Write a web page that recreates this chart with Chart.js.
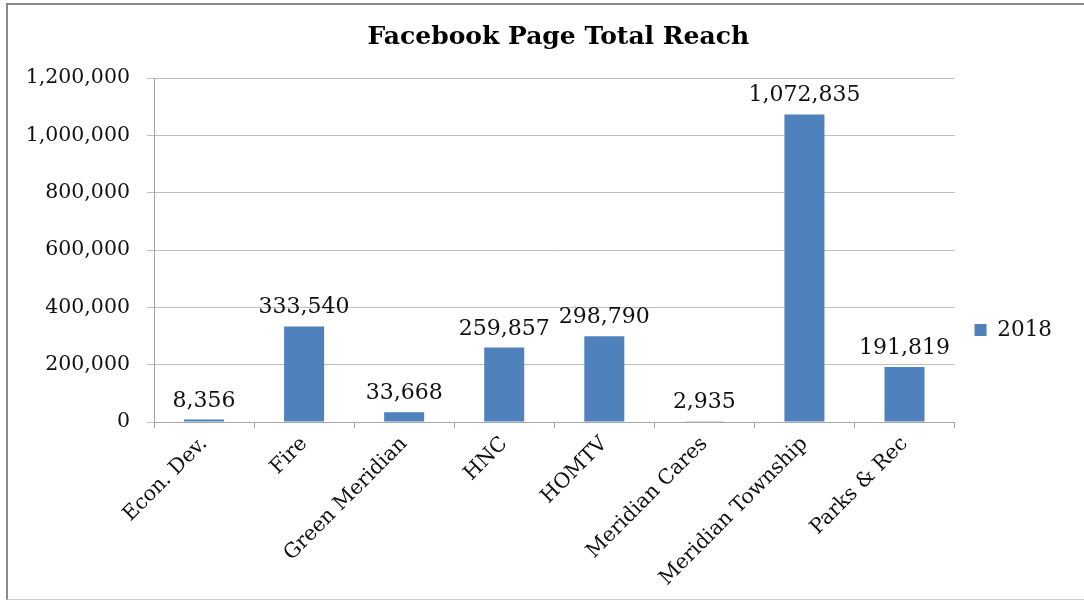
<!DOCTYPE html>
<html>
<head>
<meta charset="utf-8">
<script src="https://cdn.jsdelivr.net/npm/chart.js@4.4.1/dist/chart.umd.min.js"></script>
<style>
  html, body { margin: 0; padding: 0; background: #fff; }
  #wrap { position: relative; width: 1084px; height: 600px; }
  #c { position: absolute; left: 0; top: 0; }
  #frame { position: absolute; left: 6px; top: 3px; width: 1090px; height: 594px;
           border-left: 2px solid #8a8a8a; border-top: 2px solid #8a8a8a; border-bottom: 1px solid #d0d0d0;
           pointer-events: none; }
</style>
</head>
<body>
<div id="wrap">
  <canvas id="c" width="1084" height="600"></canvas>
  <div id="frame"></div>
</div>
<script>
const chartTitle = "Facebook Page Total Reach";
const categories = ["Econ. Dev.", "Fire", "Green Meridian", "HNC", "HOMTV", "Meridian Cares", "Meridian Township", "Parks & Rec"];
const seriesName = "2018";
const values = [8356, 333540, 33668, 259857, 298790, 2935, 1072835, 191819];
const yTicks = [0, 200000, 400000, 600000, 800000, 1000000, 1200000];

const SERIF = "'DejaVu Serif', 'Liberation Serif', serif";
const fmt = v => Number(v).toLocaleString('en-US');

const valueLabels = {
  id: 'valueLabels',
  afterDatasetsDraw(chart) {
    const ctx = chart.ctx;
    const meta = chart.getDatasetMeta(0);
    ctx.save();
    ctx.font = "22px " + SERIF;
    ctx.fillStyle = "#111";
    ctx.textAlign = "center";
    ctx.textBaseline = "alphabetic";
    meta.data.forEach((bar, i) => {
      ctx.fillText(fmt(values[i]), bar.x, bar.y - 13);
    });
    ctx.restore();
  }
};

// centre the title over the plot area (as in the original) rather than the whole canvas
const titleOverPlot = {
  id: 'titleOverPlot',
  afterLayout(chart) {
    const t = chart.titleBlock;
    if (t) { t.left = chart.chartArea.left; t.right = chart.chartArea.right + 8; }
  }
};

new Chart(document.getElementById('c'), {
  type: 'bar',
  data: {
    labels: categories,
    datasets: [{
      label: seriesName,
      data: values,
      backgroundColor: '#4f81bd',
      borderWidth: 0,
      barPercentage: 0.4,
      categoryPercentage: 1.0
    }]
  },
  options: {
    responsive: false,
    animation: false,
    layout: { padding: { left: 0, right: 22, top: 0, bottom: 0 } },
    plugins: {
      title: {
        display: true,
        text: chartTitle,
        color: '#000',
        font: { family: SERIF, size: 25, weight: 'bold' },
        padding: { top: 22, bottom: 26 }
      },
      legend: {
        position: 'right',
        title: { display: true, text: ' ', font: { size: 10 }, padding: { top: 24, bottom: 24 } },
        labels: {
          boxWidth: 12, boxHeight: 12,
          color: '#111',
          font: { family: SERIF, size: 21.5 },
          padding: 20
        }
      },
      tooltip: { enabled: false }
    },
    scales: {
      x: {
        grid: { display: true, drawOnChartArea: false, color: '#a6a6a6', tickLength: 6, offset: true },
        border: { color: '#a6a6a6' },
        ticks: {
          color: '#111', font: { family: SERIF, size: 20.5 },
          minRotation: 45, maxRotation: 45, padding: 4, autoSkip: false
        },
        afterFit(scale) { scale.height = 178; }
      },
      y: {
        min: 0, max: 1200000,
        afterBuildTicks(scale) { scale.ticks = yTicks.map(v => ({ value: v })); },
        grid: { color: '#bfbfbf', tickLength: 7 },
        border: { color: '#a6a6a6' },
        ticks: {
          color: '#111', font: { family: SERIF, size: 20.5 }, padding: 17,
          callback: v => fmt(v)
        },
        afterFit(scale) { scale.width = 154; }
      }
    }
  },
  plugins: [valueLabels, titleOverPlot]
});
</script>
</body>
</html>
